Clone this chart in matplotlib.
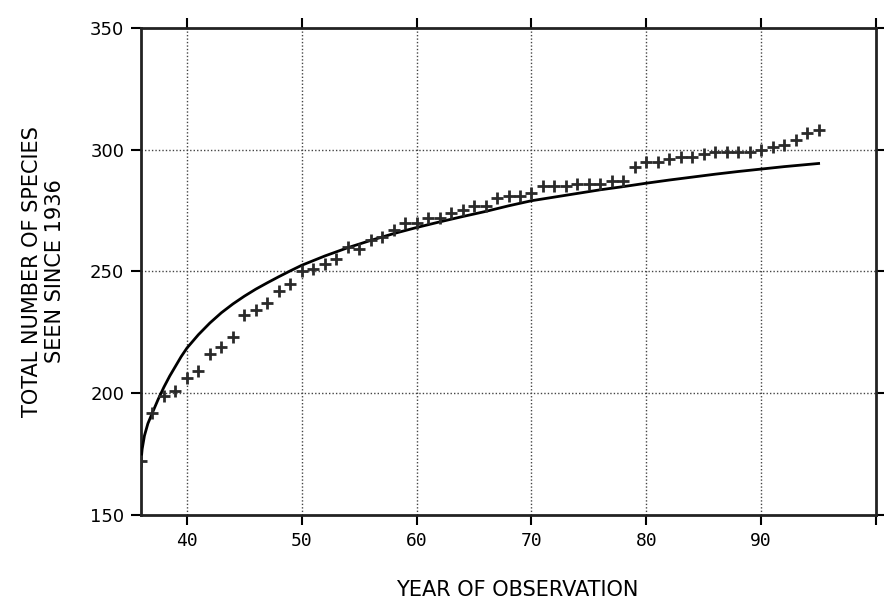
import matplotlib.pyplot as plt

# observed cumulative species count, one point per year
years = list(range(36, 96))
species = [172, 192, 199, 201, 206, 209, 216, 219, 223, 232,
           234, 237, 242, 245, 250, 251, 253, 255, 260, 259,
           263, 264, 267, 270, 270, 272, 272, 274, 275, 277,
           277, 280, 281, 281, 282, 285, 285, 285, 286, 286,
           286, 287, 287, 293, 295, 295, 296, 297, 297, 298,
           299, 299, 299, 299, 300, 301, 302, 304, 307, 308]

# fitted curve, values
fit_years = [36, 36.1, 36.3, 36.6, 37, 37.5, 38, 38.5, 39, 39.5, 40, 41, 42, 43,
             44, 45, 46, 47, 48, 49, 50, 52, 54, 56, 58, 60, 62, 64, 66, 68,
             70, 72, 74, 76, 78, 80, 82, 84, 86, 88, 90, 92, 95]
fit_species = [172, 177, 182.5, 187.5, 192, 197.5, 202.5, 207, 211, 215, 218.5, 224, 228.8, 233,
               236.6, 239.8, 242.7, 245.3, 247.8, 250.2, 252.5, 256.3, 259.7, 262.7, 265.5, 268,
               270.3, 272.5, 274.6, 276.9, 279, 280.5, 282, 283.5, 284.8, 286.2, 287.5, 288.7,
               289.9, 291, 292, 293, 294.3]

xticks = [40, 50, 60, 70, 80, 90]
yticks = [150, 200, 250, 300, 350]

fig = plt.figure(figsize=(8.84, 6.05), dpi=100)
ax = fig.add_axes([0.1595, 0.149, 0.8315, 0.805])

ax.plot(fit_years, fit_species, color='black', linewidth=2, zorder=3)
ax.plot(years, species, linestyle='none', marker='+', markersize=9,
        markeredgewidth=2, color='#2a2a2a', zorder=4)

ax.set_xlim(36, 100)
ax.set_ylim(150, 350)

ax.set_xticks(xticks + [100])
ax.set_xticklabels([str(t) for t in xticks] + [''], family='DejaVu Sans Mono', fontsize=13)
ax.set_yticks(yticks)
ax.set_yticklabels([str(t) for t in yticks], family='DejaVu Sans', fontsize=13)

for x in xticks:
    ax.axvline(x, color='#444444', linestyle=(0, (1, 1.5)), linewidth=1, zorder=1)
for y in [200, 250, 300]:
    ax.axhline(y, color='#444444', linestyle=(0, (1, 1.5)), linewidth=1, zorder=1)

ax.tick_params(direction='out', length=7, width=1.5, color='black',
               top=True, right=True, pad=5)
for s in ax.spines.values():
    s.set_linewidth(2)
    s.set_color('#222222')

fig.text(0.585, 0.025, 'YEAR OF OBSERVATION', fontsize=15, ha='center', va='center')
ax.set_ylabel('TOTAL NUMBER OF SPECIES\nSEEN SINCE 1936', fontsize=15, labelpad=18)

plt.savefig('out.png', dpi=100)
